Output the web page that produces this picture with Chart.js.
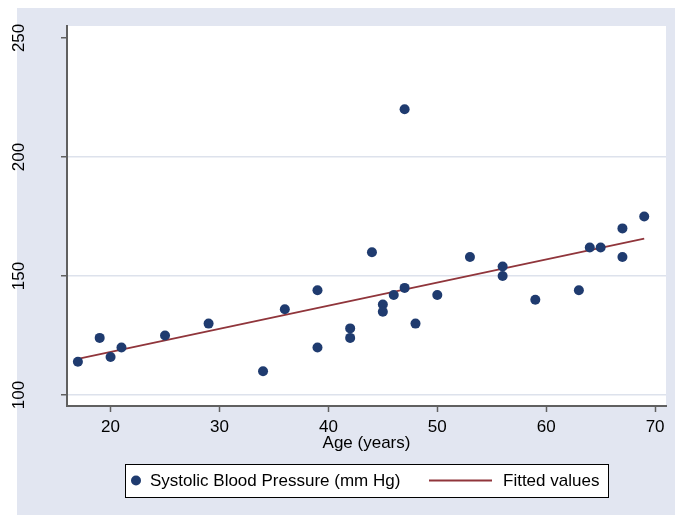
<!DOCTYPE html>
<html>
<head>
<meta charset="utf-8">
<script src="https://cdn.jsdelivr.net/npm/chart.js@4/dist/chart.umd.min.js"></script>
<style>
  html, body { margin: 0; padding: 0; background: #ffffff; }
  #wrap { width: 675px; height: 515px; }
</style>
</head>
<body>
<div id="wrap"><canvas id="c" width="675" height="515"></canvas></div>
<script>
// ---- data ----
const ages = [17, 19, 20, 21, 25, 29, 34, 36, 39, 39, 42, 42, 44, 45, 45, 46, 47, 47, 48, 50, 53, 56, 56, 59, 63, 64, 65, 67, 67, 69];
const sbp  = [114, 124, 116, 120, 125, 130, 110, 136, 144, 120, 128, 124, 160, 138, 135, 142, 145, 220, 130, 142, 158, 154, 150, 140, 144, 162, 162, 170, 158, 175];
const fitAges   = [17, 69];
const fitValues = [115.2, 165.7];
const xTicks = [20, 30, 40, 50, 60, 70];
const yTicks = [100, 150, 200, 250];
const seriesLabels = ['Systolic Blood Pressure (mm Hg)', 'Fitted values'];
const xTitle = 'Age (years)';

const NAVY = '#1f3b6f';
const MAROON = '#90353b';
const BG = '#e2e6f1';
const GRID = '#dde2ec';
const AXIS = '#606060';
const FONT = 'Liberation Sans, Arial, sans-serif';
const FS = 17;

const bgPlugin = {
  id: 'bg',
  beforeDraw(chart) {
    const ctx = chart.ctx, a = chart.chartArea;
    ctx.save();
    ctx.fillStyle = '#ffffff';
    ctx.fillRect(0, 0, chart.width, chart.height);
    ctx.fillStyle = BG;
    ctx.fillRect(17, 8, chart.width - 17, chart.height - 8);
    ctx.fillStyle = '#ffffff';
    ctx.fillRect(a.left, a.top, a.right - a.left, a.bottom - a.top);
    ctx.restore();
  },
  afterDraw(chart) {
    const ctx = chart.ctx;
    const ys = chart.scales.y;
    ctx.save();
    // rotated y tick labels
    ctx.fillStyle = '#000';
    ctx.font = FS + 'px ' + FONT;
    ctx.textAlign = 'center';
    ctx.textBaseline = 'middle';
    yTicks.forEach(v => {
      const py = ys.getPixelForValue(v);
      ctx.save();
      ctx.translate(19, py);
      ctx.rotate(-Math.PI / 2);
      ctx.fillText(String(v), 0, 0);
      ctx.restore();
    });
    // legend box
    const lx = 125, ly = 464, lw = 483, lh = 33, cy = ly + lh / 2;
    ctx.fillStyle = '#ffffff';
    ctx.fillRect(lx, ly, lw, lh);
    ctx.strokeStyle = '#000';
    ctx.lineWidth = 1;
    ctx.strokeRect(lx + 0.5, ly + 0.5, lw, lh);
    ctx.fillStyle = NAVY;
    ctx.beginPath();
    ctx.arc(136, cy, 5, 0, Math.PI * 2);
    ctx.fill();
    ctx.fillStyle = '#000';
    ctx.textAlign = 'left';
    ctx.fillText(chart.data.datasets[0].label, 150, cy + 1);
    ctx.strokeStyle = MAROON;
    ctx.lineWidth = 2;
    ctx.beginPath();
    ctx.moveTo(429, cy);
    ctx.lineTo(492, cy);
    ctx.stroke();
    ctx.fillText(chart.data.datasets[1].label, 503, cy + 1);
    ctx.restore();
  }
};

new Chart(document.getElementById('c'), {
  type: 'scatter',
  data: {
    datasets: [
      {
        label: seriesLabels[0],
        data: ages.map((a, i) => ({ x: a, y: sbp[i] })),
        backgroundColor: NAVY,
        borderColor: NAVY,
        pointRadius: 5,
        pointBorderWidth: 0,
        order: 1
      },
      {
        label: seriesLabels[1],
        type: 'line',
        data: fitAges.map((a, i) => ({ x: a, y: fitValues[i] })),
        borderColor: MAROON,
        borderWidth: 1.8,
        pointRadius: 0,
        fill: false,
        order: 2
      }
    ]
  },
  options: {
    responsive: false,
    animation: false,
    events: [],
    layout: { padding: { left: 0, top: 26, right: 9, bottom: 0 } },
    plugins: { legend: { display: false }, tooltip: { enabled: false } },
    scales: {
      x: {
        type: 'linear',
        min: 16,
        max: 71,
        afterBuildTicks(s) { s.ticks = xTicks.map(v => ({ value: v })); },
        afterFit(s) { s.height = 109; },
        border: { display: true, color: AXIS, width: 2 },
        grid: { drawOnChartArea: false, drawTicks: true, tickLength: 6, tickColor: AXIS, tickWidth: 1.5 },
        ticks: { color: '#000', font: { family: FONT, size: FS }, padding: 5, maxRotation: 0, autoSkip: false },
        title: { display: true, text: xTitle, color: '#000', font: { family: FONT, size: FS }, padding: { top: 0, bottom: 61 } }
      },
      y: {
        type: 'linear',
        min: 95.4,
        max: 255,
        afterBuildTicks(s) { s.ticks = yTicks.map(v => ({ value: v })); },
        afterFit(s) { s.width = 67; },
        border: { display: true, color: AXIS, width: 2 },
        grid: {
          drawOnChartArea: true,
          color: ctx => (ctx.tick && ctx.tick.value === 250 ? 'rgba(0,0,0,0)' : GRID),
          lineWidth: 1.5,
          drawTicks: true,
          tickLength: 6,
          tickColor: AXIS,
          tickWidth: 1.5
        },
        ticks: { display: false }
      }
    }
  },
  plugins: [bgPlugin]
});
</script>
</body>
</html>
